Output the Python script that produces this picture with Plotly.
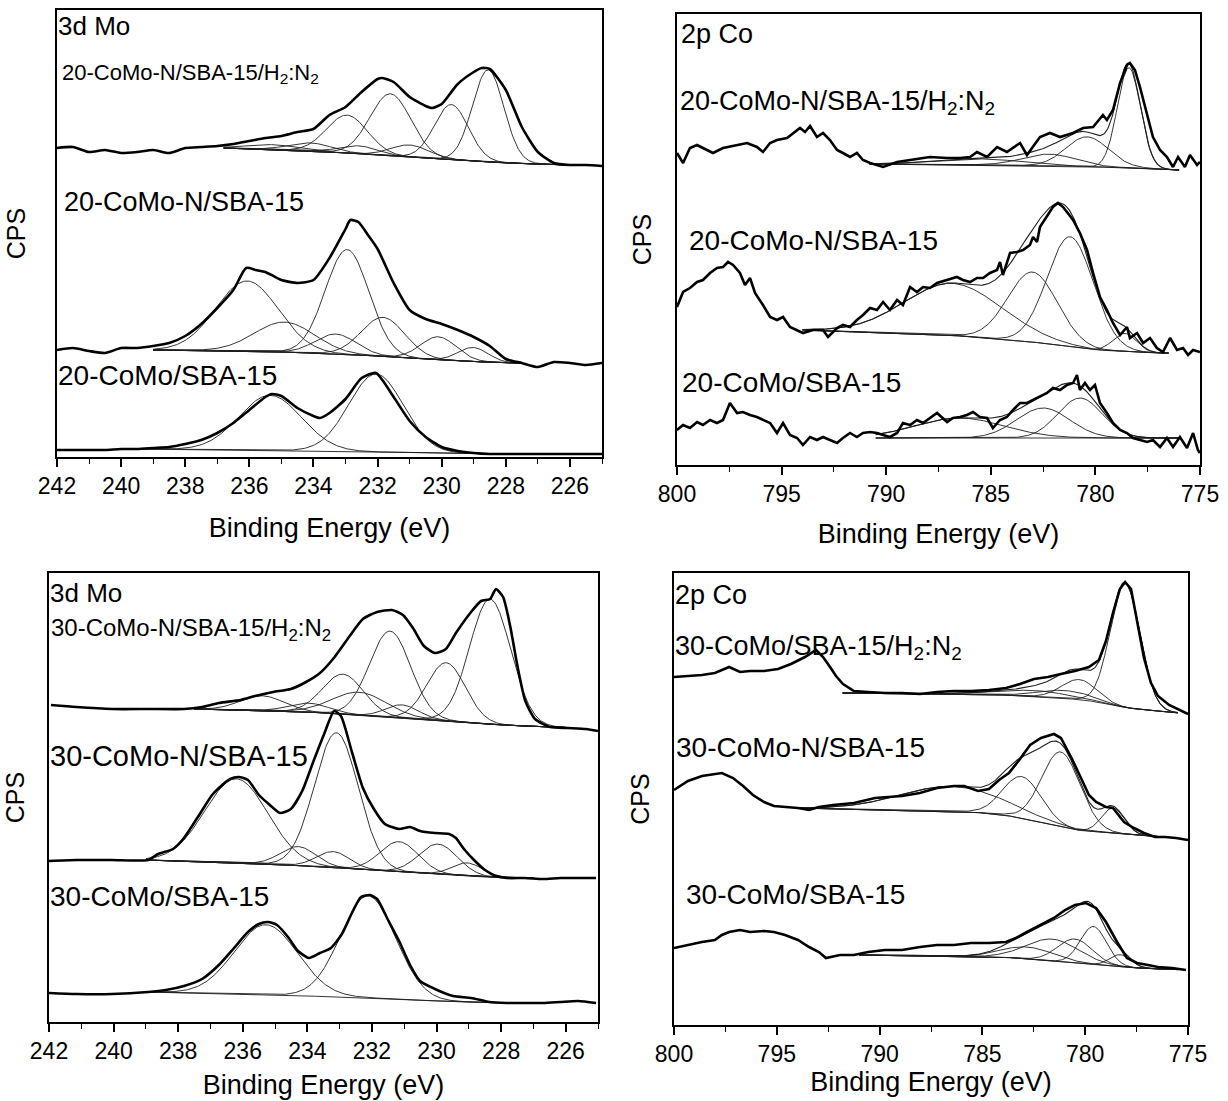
import numpy as np
import plotly.graph_objects as go

# ===================== DATA (binding energy in eV, intensity in a.u., stacked) =====================
# ---- Mo 3d, 20 wt% series ----
mo20_h2_be = [242, 241.5, 241, 240.5, 240, 239.5, 239, 238.5, 238, 237.5, 237, 236.5, 236, 235.5, 235, 234.5, 234,
              233.5, 233, 232.5, 232, 231.85, 231.5, 231, 230.5, 230.3, 230, 229.5, 229, 228.75, 228.5, 228, 227.5,
              227, 226.5, 226, 225.5, 225]
mo20_h2_cps = [309, 310, 305, 307, 304, 305, 307, 304, 309, 310, 311, 313, 316, 319, 321, 325, 328,
               342, 350, 365, 378, 379, 375, 360, 351, 349, 353, 373, 385, 389, 388, 367, 330,
               305, 294, 292, 292, 291]
mo20_h2_bg_be = [236.8, 234, 232, 230, 228, 226]
mo20_h2_bg = [309, 306, 302, 298, 294, 292]
mo20_h2_pk_c = [228.55, 229.7, 231.6, 232.95, 231.0, 232.6, 234.1, 235.3]
mo20_h2_pk_h = [92, 55, 62, 38, 12, 8, 8, 5]
mo20_h2_pk_w = [1.15, 1.25, 1.5, 1.5, 1.4, 1.4, 1.6, 1.8]
mo20_h2_win = [236.8, 226.0]

mo20_n_be = [242, 241.5, 241, 240.5, 240, 239.5, 239, 238.5, 238, 237.5, 237, 236.5, 236.1, 235.8, 235.5, 235,
             234.5, 234, 233.5, 233, 232.85, 232.6, 232.3, 232, 231.5, 231, 230.5, 230, 229.5, 229, 228.5, 228,
             227.5, 227, 226.5, 226, 225.5, 225]
mo20_n_cps = [107, 109, 106, 104, 109, 109, 111, 114, 121, 133, 149, 167, 189, 187, 185, 177,
              174, 177, 199, 228, 237, 235, 222, 208, 174, 147, 138, 133, 127, 120, 111, 98,
              94, 90, 95, 94, 92, 94]
mo20_n_bg_be = [239, 236, 234, 232, 230, 228, 227.5]
mo20_n_bg = [107, 106, 104, 101, 97, 94, 94]
mo20_n_pk_c = [236.07, 234.9, 233.3, 232.95, 231.83, 230.1, 229.02]
mo20_n_pk_h = [70, 30, 20, 105, 39, 23, 14]
mo20_n_pk_w = [2.3, 2.2, 1.5, 1.6, 1.6, 1.3, 1.1]
mo20_n_win = [239.0, 227.5]

mo20_be = [242, 241.5, 241, 240.5, 240, 239.5, 239, 238.5, 238, 237.5, 237, 236.5, 236, 235.5, 235.3, 235, 234.5,
           234, 233.8, 233.5, 233, 232.5, 232.05, 231.5, 231, 230.5, 230, 229.5, 229, 228.5, 228, 227.5, 227,
           226.5, 226, 225.5, 225]
mo20_cps = [7, 7, 7, 7, 8, 8, 9, 10, 13, 17, 24, 34, 47, 60, 63, 61, 49,
            41, 39, 44, 58, 79, 84, 60, 36, 20, 10, 6, 4, 3, 3, 3, 3,
            3, 3, 3, 3]
mo20_bg_be = [239.5, 236, 234, 232, 230, 228]
mo20_bg = [8, 7, 6, 5, 4, 3]
mo20_pk_c = [235.35, 232.05]
mo20_pk_h = [55, 78]
mo20_pk_w = [2.3, 2.0]
mo20_win = [239.5, 228.0]

# ---- Co 2p, 20 wt% series ----
co20_h2_be = [800, 799.71, 799.38, 799.04, 798.76, 798.28, 797.8, 797.13, 796.65, 796.18, 795.89, 795.55, 795.22,
              794.74, 794.45, 794.12, 793.88, 793.64, 793.31, 793.02, 792.69, 792.35, 792.07, 791.73, 791.4, 791.11,
              790.77, 790.15, 789.48, 788.86, 787.91, 787.09, 786.47, 785.99, 785.66, 785.18, 784.7, 784.23, 783.94,
              783.6, 783.27, 782.98, 782.65, 782.17, 781.69, 781.07, 780.59, 780.11, 779.64, 779.45, 779.16, 778.82,
              778.49, 778.35, 778.11, 777.87, 777.53, 777.25, 776.91, 776.58, 776.29, 776.05, 775.72, 775.48,
              775.14, 775.0]
co20_h2_cps = [312, 302, 317, 320, 317, 312, 317, 320, 322, 318, 313, 322, 325,
               327, 332, 337, 333, 339, 328, 332, 325, 315, 312, 308, 312, 305,
               302, 298, 303, 305, 308, 307, 307, 308, 313, 308, 318, 313, 317,
               322, 310, 318, 328, 332, 328, 332, 337, 338, 350, 345, 355, 382,
               400, 402, 395, 378, 352, 328, 315, 308, 298, 308, 298, 310,
               300, 303]
co20_h2_bg_be = [790.8, 785, 780, 778, 776]
co20_h2_bg = [301, 300, 298, 297, 295]
co20_h2_pk_c = [778.4, 780.4, 782.2, 785.5]
co20_h2_pk_h = [100, 30, 12, 6]
co20_h2_pk_w = [1.3, 2.4, 3.0, 5.0]
co20_h2_win = [790.8, 776.0]

co20_n_be = [800, 799.71, 799.38, 799.04, 798.76, 798.42, 798.09, 797.8, 797.56, 797.32, 796.99, 796.75, 796.51,
             796.27, 795.89, 795.55, 795.22, 794.93, 794.6, 794.26, 793.98, 793.5, 793.02, 792.78, 792.35, 792.07,
             791.73, 791.4, 791.11, 790.77, 790.44, 790.15, 789.82, 789.48, 789.2, 788.86, 788.53, 788.24, 787.91,
             787.57, 787.09, 786.62, 786.33, 785.99, 785.66, 785.37, 785.04, 784.7, 784.56, 784.42, 784.08, 783.75,
             783.46, 783.13, 782.98, 782.79, 782.65, 782.31, 782.03, 781.79, 781.55, 781.36, 781.07, 780.74, 780.4,
             780.11, 779.78, 779.45, 779.16, 778.82, 778.49, 778.35, 778.01, 777.72, 777.39, 777.06, 776.77, 776.43,
             776.1, 775.81, 775.57, 775.33, 775.0]
co20_n_cps = [158, 173, 177, 183, 185, 192, 197, 198, 203, 200, 192, 180, 187,
              172, 160, 148, 145, 148, 138, 135, 132, 135, 135, 128, 137, 140,
              138, 145, 150, 157, 155, 163, 155, 165, 160, 178, 173, 178, 177,
              182, 185, 188, 185, 183, 187, 187, 192, 195, 203, 190, 212, 213,
              215, 220, 228, 223, 238, 249, 258, 262, 258, 253, 245, 232, 215,
              192, 168, 155, 142, 130, 138, 127, 132, 122, 127, 117, 113, 127,
              115, 117, 110, 115, 113]
co20_n_bg_be = [794, 787, 783, 780, 777, 776.5]
co20_n_bg = [135, 130, 123, 115, 112, 112]
co20_n_pk_c = [781.2, 783.0, 786.8, 778.6]
co20_n_pk_h = [110, 70, 52, 18]
co20_n_pk_w = [2.6, 2.8, 5.5, 1.3]
co20_n_win = [794.0, 776.5]

co20_be = [800, 799.71, 799.38, 799.04, 798.76, 798.42, 798.09, 797.8, 797.47, 797.13, 796.85, 796.51, 796.18,
           795.89, 795.55, 795.22, 794.93, 794.6, 794.26, 793.98, 793.64, 793.31, 793.02, 792.69, 792.35, 792.07,
           791.73, 791.4, 791.11, 790.77, 790.44, 790.15, 789.82, 789.48, 789.2, 788.86, 788.53, 788.24, 787.91,
           787.57, 787.09, 786.81, 786.47, 786.14, 785.85, 785.52, 785.18, 784.9, 784.56, 784.23, 783.94, 783.6,
           783.27, 782.98, 782.65, 782.31, 782.03, 781.69, 781.36, 781.07, 780.88, 780.74, 780.5, 780.26, 780.02,
           779.78, 779.45, 779.16, 778.82, 778.49, 778.2, 777.87, 777.53, 777.25, 776.91, 776.58, 776.29, 775.96,
           775.62, 775.33, 775.1, 775.0]
co20_cps = [35, 40, 37, 43, 40, 45, 42, 45, 62, 52, 53, 50, 48,
            45, 42, 32, 42, 30, 27, 20, 28, 25, 28, 25, 22, 27,
            32, 28, 32, 33, 32, 30, 28, 32, 42, 40, 45, 42, 47,
            52, 43, 47, 48, 50, 53, 48, 47, 37, 45, 48, 55, 62,
            62, 65, 68, 72, 77, 75, 80, 82, 90, 75, 82, 75, 80,
            62, 52, 42, 35, 32, 27, 25, 23, 25, 18, 27, 18, 28,
            17, 32, 15, 12]
co20_bg_be = [790.5, 775.5]
co20_bg = [27, 27]
co20_pk_c = [780.74, 782.5, 786.5]
co20_pk_h = [40, 30, 20]
co20_pk_w = [2.5, 3.0, 5.0]
co20_win = [790.5, 776.0]

# ---- Mo 3d, 30 wt% series ----
mo30_h2_be = [241.94, 241.16, 240.05, 238.93, 237.82, 237.26, 236.74, 236.06, 235.62, 235.06, 234.51, 234.04,
              233.61, 233.18, 232.71, 232.28, 231.84, 231.38, 231.04, 230.73, 230.39, 230.05, 229.71, 229.4,
              228.93, 228.62, 228.34, 228.16, 227.94, 227.72, 227.5, 227.25, 226.95, 226.48, 225.93, 225.37, 225.0]
mo30_h2_cps = [317, 315, 313, 313, 313, 315, 319, 322, 326, 330, 333, 340,
               349, 364, 385, 403, 410, 412, 407, 394, 376, 369, 373, 389,
               410, 421, 423, 433, 425, 396, 357, 321, 303, 295, 294, 293, 291]
mo30_h2_bg_be = [237.5, 234, 232, 230, 228, 226.5, 225.5]
mo30_h2_bg = [313, 310, 306, 302, 297, 295, 294]
mo30_h2_pk_c = [228.34, 229.7, 231.44, 232.9, 232.4, 231.07, 235.4, 233.95]
mo30_h2_pk_h = [125, 58, 86, 40, 23, 13, 15, 9]
mo30_h2_pk_w = [1.5, 1.4, 1.5, 1.5, 2.0, 1.2, 1.6, 1.5]
mo30_h2_win = [237.5, 226.0]

mo30_n_be = [242.0, 241.16, 240.05, 238.93, 238.62, 238.16, 237.82, 237.39, 236.95, 236.74, 236.39, 236.12,
             235.84, 235.5, 235.16, 234.85, 234.51, 234.16, 233.82, 233.48, 233.17, 232.96, 232.62, 232.28,
             231.94, 231.6, 231.16, 230.82, 230.51, 230.05, 229.61, 229.4, 229.15, 228.84, 228.5, 228.16,
             227.82, 227.26, 226.7, 226.17, 225.62, 225.06]
mo30_n_cps = [161, 162, 162, 162, 168, 173, 184, 205, 227, 234, 243, 245,
              242, 227, 217, 209, 213, 231, 260, 288, 311, 306, 270, 234,
              213, 198, 193, 195, 191, 189, 188, 184, 173, 162, 152, 146,
              144, 144, 143, 144, 144, 144]
mo30_n_bg_be = [239, 236, 234, 232, 230, 228.5, 227]
mo30_n_bg = [162, 159, 156, 152, 148, 145, 144]
mo30_n_pk_c = [236.2, 234.29, 233.1, 233.2, 231.16, 229.95, 229.05]
mo30_n_pk_h = [84, 19, 135, 16, 30, 30, 13]
mo30_n_pk_w = [2.3, 1.3, 1.6, 1.2, 1.4, 1.4, 1.1]
mo30_n_win = [239.0, 227.0]

mo30_be = [242.0, 241.16, 240.05, 238.93, 238.38, 237.82, 237.26, 236.74, 236.27, 235.84, 235.5, 235.22, 234.94,
           234.6, 234.29, 233.95, 233.61, 233.27, 232.93, 232.62, 232.34, 232.06, 231.84, 231.5, 231.16, 230.82,
           230.51, 230.05, 229.49, 228.93, 228.37, 227.82, 227.26, 226.7, 226.17, 225.62, 225.06]
mo30_cps = [29, 28, 28, 30, 32, 36, 43, 57, 74, 90, 98, 100, 97,
            85, 71, 64, 69, 74, 88, 109, 125, 127, 123, 102, 81, 57,
            41, 33, 26, 24, 20, 19, 19, 19, 20, 21, 19]
mo30_bg_be = [239, 236, 234, 232, 230, 228, 227]
mo30_bg = [30, 28, 26, 24, 21, 19, 19]
mo30_pk_c = [235.28, 232.12]
mo30_pk_h = [70, 102]
mo30_pk_w = [2.3, 2.0]
mo30_win = [239.0, 227.0]

# ---- Co 2p, 30 wt% series ----
co30_h2_be = [800, 799.32, 798.64, 798.01, 797.32, 796.79, 796.3, 795.62, 794.94, 794.31, 793.63, 793.09, 792.75,
              792.41, 792.12, 791.78, 791.25, 790.56, 789.74, 788.91, 788.04, 787.21, 786.38, 785.55, 784.68,
              783.85, 783.17, 782.49, 781.81, 781.18, 780.5, 779.82, 779.33, 778.99, 778.65, 778.31, 778.06,
              777.77, 777.48, 777.14, 776.8, 776.46, 775.92, 775.44, 775.0]
co30_h2_cps = [348, 349, 350, 352, 358, 353, 354, 354, 356, 361, 368, 375, 368,
               358, 349, 341, 334, 333, 332, 332, 331, 333, 334, 334, 335,
               337, 341, 346, 348, 351, 354, 358, 365, 384, 412, 436, 443,
               436, 405, 367, 342, 329, 320, 315, 311]
co30_h2_bg_be = [791.8, 785, 782, 780, 778, 776, 775.4]
co30_h2_bg = [332, 331, 328, 325, 317, 313, 312]
co30_h2_pk_c = [778.06, 780.3, 781.0, 782.5]
co30_h2_pk_h = [124, 20, 8, 6]
co30_h2_pk_w = [1.7, 2.0, 3.0, 4.0]
co30_h2_win = [791.8, 775.5]

co30_n_be = [800, 799.32, 798.64, 798.01, 797.67, 797.13, 796.64, 796.16, 795.62, 795.14, 794.6, 793.97, 793.43,
             792.95, 792.27, 791.25, 790.22, 788.91, 788.04, 787.21, 786.38, 785.89, 785.21, 784.68, 784.19,
             783.71, 783.17, 782.68, 782.15, 781.81, 781.52, 781.18, 780.64, 780.16, 779.82, 779.47, 778.99,
             778.65, 778.11, 777.63, 777.14, 776.61, 776.12, 775.58, 775.0]
co30_n_cps = [235, 244, 249, 251, 252, 247, 239, 230, 223, 219, 218, 217, 215,
              218, 220, 222, 227, 229, 232, 237, 239, 239, 234, 236, 245,
              252, 266, 280, 287, 289, 291, 287, 266, 245, 230, 223, 218,
              217, 203, 197, 192, 188, 188, 187, 185]
co30_n_bg_be = [794, 785.5, 783.9, 780.5, 777.5, 775.5]
co30_n_bg = [217, 213, 210, 195, 190, 187]
co30_n_pk_c = [786.5, 783.07, 781.18, 778.65]
co30_n_pk_h = [25, 42, 75, 25]
co30_n_pk_w = [6.0, 2.2, 2.2, 1.3]
co30_n_win = [794.0, 776.0]

co30_be = [800, 799.32, 798.64, 798.01, 797.67, 797.32, 796.79, 796.3, 795.62, 795.14, 794.6, 793.97, 793.43,
           792.95, 792.61, 791.93, 791.25, 790.56, 789.74, 788.91, 788.04, 787.21, 786.38, 785.55, 784.68,
           783.85, 783.37, 782.83, 782.15, 781.52, 780.98, 780.5, 779.96, 779.47, 778.99, 778.45, 777.97,
           777.48, 776.95, 776.46, 775.78, 775.1]
co30_cps = [77, 80, 83, 85, 90, 93, 95, 93, 94, 93, 90, 85, 78,
            73, 67, 70, 70, 73, 75, 75, 78, 80, 80, 82, 82,
            83, 87, 93, 100, 107, 115, 120, 122, 117, 103, 83, 67,
            62, 60, 58, 57, 55]
co30_bg_be = [791, 784, 780.5, 777.5, 775]
co30_bg = [70, 68, 62, 57, 55]
co30_pk_c = [779.6, 780.5, 781.6, 782.8, 778.3]
co30_pk_h = [38, 24, 22, 12, 12]
co30_pk_w = [1.5, 2.0, 3.0, 3.0, 1.2]
co30_win = [791.0, 775.5]

# Sample labels
lbl_mo20 = ["20-CoMo-N/SBA-15/H<sub>2</sub>:N<sub>2</sub>", "20-CoMo-N/SBA-15", "20-CoMo/SBA-15"]
lbl_co20 = ["20-CoMo-N/SBA-15/H<sub>2</sub>:N<sub>2</sub>", "20-CoMo-N/SBA-15", "20-CoMo/SBA-15"]
lbl_mo30 = ["30-CoMo-N/SBA-15/H<sub>2</sub>:N<sub>2</sub>", "30-CoMo-N/SBA-15", "30-CoMo/SBA-15"]
lbl_co30 = ["30-CoMo/SBA-15/H<sub>2</sub>:N<sub>2</sub>", "30-CoMo-N/SBA-15", "30-CoMo/SBA-15"]

# ===================== FIGURE =====================
W, H = 1228, 1101
FONT = "Arial, Liberation Sans, sans-serif"


def fx(p):
    return p / W


def fy(p):
    return 1 - p / H


fig = go.Figure()

# panel geometry in pixels: left, right, top, bottom; plus title standoffs
panels = [
    dict(l=57, r=602, t=10, b=457, xr=[242, 225], tick0=226, dt=2, mdt=1, xso=20, yso=22),
    dict(l=677, r=1200, t=14, b=465, xr=[800, 775], tick0=775, dt=5, mdt=2.5, xso=18, yso=16),
    dict(l=49, r=598, t=573, b=1022, xr=[242, 225], tick0=226, dt=2, mdt=1, xso=12, yso=15),
    dict(l=674, r=1188, t=573, b=1025, xr=[800, 775], tick0=775, dt=5, mdt=2.5, xso=6, yso=15),
]

COMP = dict(color="#1e1e1e", width=0.9)


def axn(k):
    return ("x" if k == 1 else f"x{k}"), ("y" if k == 1 else f"y{k}")


def add_spectrum(k, be, cps, bg_be, bg_v, pc, ph, pw, win, fit_line=False, smooth=False):
    xa, ya = axn(k)
    grid = np.linspace(win[0], win[1], 400)
    o = np.argsort(bg_be)
    bg = np.interp(grid, np.asarray(bg_be, float)[o], np.asarray(bg_v, float)[o])
    total = bg.copy()
    for c, h, w in zip(pc, ph, pw):
        g = h * np.exp(-4 * np.log(2) * ((grid - c) / w) ** 2)
        total += g
        fig.add_trace(go.Scatter(x=grid, y=bg + g, mode="lines", line=COMP,
                                 xaxis=xa, yaxis=ya, hoverinfo="skip", showlegend=False))
    fig.add_trace(go.Scatter(x=grid, y=bg, mode="lines", line=COMP,
                             xaxis=xa, yaxis=ya, hoverinfo="skip", showlegend=False))
    if fit_line:
        fig.add_trace(go.Scatter(x=grid, y=total, mode="lines", line=dict(color="#1e1e1e", width=1.1),
                                 xaxis=xa, yaxis=ya, hoverinfo="skip", showlegend=False))
    line = dict(color="black", width=2.6)
    if smooth:
        line.update(shape="spline", smoothing=0.6)
    fig.add_trace(go.Scatter(x=be, y=cps, mode="lines", line=line,
                             xaxis=xa, yaxis=ya, hoverinfo="skip", showlegend=False))


# panel 1: Mo 3d, 20
add_spectrum(1, mo20_h2_be, mo20_h2_cps, mo20_h2_bg_be, mo20_h2_bg, mo20_h2_pk_c, mo20_h2_pk_h, mo20_h2_pk_w, mo20_h2_win, smooth=True)
add_spectrum(1, mo20_n_be, mo20_n_cps, mo20_n_bg_be, mo20_n_bg, mo20_n_pk_c, mo20_n_pk_h, mo20_n_pk_w, mo20_n_win, smooth=True)
add_spectrum(1, mo20_be, mo20_cps, mo20_bg_be, mo20_bg, mo20_pk_c, mo20_pk_h, mo20_pk_w, mo20_win, smooth=True)
# panel 2: Co 2p, 20
add_spectrum(2, co20_h2_be, co20_h2_cps, co20_h2_bg_be, co20_h2_bg, co20_h2_pk_c, co20_h2_pk_h, co20_h2_pk_w, co20_h2_win, True)
add_spectrum(2, co20_n_be, co20_n_cps, co20_n_bg_be, co20_n_bg, co20_n_pk_c, co20_n_pk_h, co20_n_pk_w, co20_n_win, True)
add_spectrum(2, co20_be, co20_cps, co20_bg_be, co20_bg, co20_pk_c, co20_pk_h, co20_pk_w, co20_win, True)
# panel 3: Mo 3d, 30
add_spectrum(3, mo30_h2_be, mo30_h2_cps, mo30_h2_bg_be, mo30_h2_bg, mo30_h2_pk_c, mo30_h2_pk_h, mo30_h2_pk_w, mo30_h2_win, smooth=True)
add_spectrum(3, mo30_n_be, mo30_n_cps, mo30_n_bg_be, mo30_n_bg, mo30_n_pk_c, mo30_n_pk_h, mo30_n_pk_w, mo30_n_win, smooth=True)
add_spectrum(3, mo30_be, mo30_cps, mo30_bg_be, mo30_bg, mo30_pk_c, mo30_pk_h, mo30_pk_w, mo30_win, smooth=True)
# panel 4: Co 2p, 30
add_spectrum(4, co30_h2_be, co30_h2_cps, co30_h2_bg_be, co30_h2_bg, co30_h2_pk_c, co30_h2_pk_h, co30_h2_pk_w, co30_h2_win, True)
add_spectrum(4, co30_n_be, co30_n_cps, co30_n_bg_be, co30_n_bg, co30_n_pk_c, co30_n_pk_h, co30_n_pk_w, co30_n_win, True)
add_spectrum(4, co30_be, co30_cps, co30_bg_be, co30_bg, co30_pk_c, co30_pk_h, co30_pk_w, co30_win, True)


# text labels placed inside each panel (given in pixel position, converted to the panel's axes)
def label(k, px, py, s, size):
    p = panels[k - 1]
    px = max(px, p["l"] + 1)  # anchor must lie inside the axis range to be drawn
    x0, x1 = p["xr"]
    e = x0 + (px - p["l"]) / (p["r"] - p["l"]) * (x1 - x0)
    cnt = p["b"] - py
    xa, ya = axn(k)
    fig.add_trace(go.Scatter(x=[e], y=[cnt], mode="text", text=[s], textposition="middle right",
                             textfont=dict(size=size, family=FONT, color="black"),
                             xaxis=xa, yaxis=ya, hoverinfo="skip", showlegend=False, cliponaxis=False))


label(1, 57, 28, "3d Mo", 26)
label(1, 62, 74, lbl_mo20[0], 22)
label(1, 64, 204, lbl_mo20[1], 27)
label(1, 57, 378, lbl_mo20[2], 28)

label(2, 681, 36, "2p Co", 27)
label(2, 680, 103, lbl_co20[0], 27)
label(2, 689, 243, lbl_co20[1], 28)
label(2, 682, 385, lbl_co20[2], 28)

label(3, 49, 595, "3d Mo", 26)
label(3, 51, 630, lbl_mo30[0], 24)
label(3, 49, 759, lbl_mo30[1], 29)
label(3, 49, 899, lbl_mo30[2], 28)

label(4, 674, 597, "2p Co", 27)
label(4, 674, 648, lbl_co30[0], 27)
label(4, 676, 750, lbl_co30[1], 28)
label(4, 686, 897, lbl_co30[2], 28)

layout = dict(
    width=W, height=H, autosize=False, margin=dict(l=0, r=0, t=0, b=0, autoexpand=False),
    paper_bgcolor="white", plot_bgcolor="white",
    font=dict(family=FONT, color="black", size=23),
    showlegend=False,
)
for i, p in enumerate(panels, start=1):
    sx = "xaxis" if i == 1 else f"xaxis{i}"
    sy = "yaxis" if i == 1 else f"yaxis{i}"
    layout[sx] = dict(
        domain=[fx(p["l"]), fx(p["r"])], anchor="y" if i == 1 else f"y{i}",
        range=p["xr"], tickmode="linear", tick0=p["tick0"], dtick=p["dt"],
        ticks="outside", ticklen=8, tickwidth=1.5, tickcolor="black",
        minor=dict(ticks="outside", ticklen=5, tickwidth=1.3, dtick=p["mdt"], tickcolor="black"),
        showline=True, linecolor="black", linewidth=1.6, mirror=True,
        showgrid=False, zeroline=False, tickfont=dict(size=23, family=FONT),
        title=dict(text="Binding Energy (eV)", font=dict(size=27, family=FONT), standoff=p["xso"]),
        automargin=False,
    )
    layout[sy] = dict(
        domain=[fy(p["b"]), fy(p["t"])], anchor="x" if i == 1 else f"x{i}",
        range=[0, p["b"] - p["t"]], showticklabels=False, ticks="",
        showline=True, linecolor="black", linewidth=1.6, mirror=True,
        showgrid=False, zeroline=False,
        title=dict(text="CPS", font=dict(size=25, family=FONT), standoff=p["yso"]),
        automargin=False,
    )

fig.update_layout(**layout)
fig.write_html("out.html", config={"responsive": False})
